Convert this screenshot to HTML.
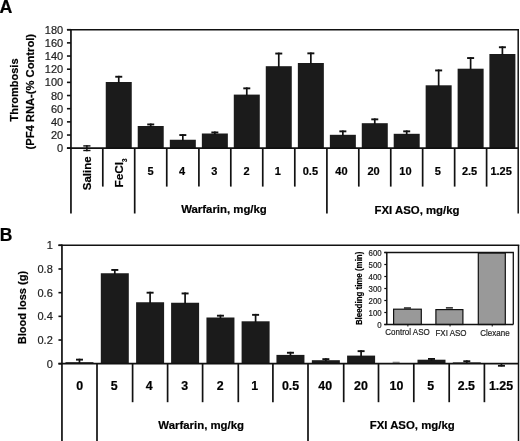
<!DOCTYPE html>
<html><head><meta charset="utf-8"><style>
html,body{margin:0;padding:0;background:#fff;}
body{width:520px;height:441px;overflow:hidden;}
svg{display:block;font-family:"Liberation Sans", sans-serif;filter:grayscale(1);}
</style></head><body>
<svg width="520" height="441" viewBox="0 0 520 441">
<rect x="0" y="0" width="520" height="441" fill="#fff"/>
<text x="-0.50" y="12.70" font-size="17.8" font-weight="bold" text-anchor="start" fill="#000" stroke="#000" stroke-width="0.2" >A</text>
<text x="-0.30" y="241.10" font-size="17.5" font-weight="bold" text-anchor="start" fill="#000" stroke="#000" stroke-width="0.2" >B</text>
<rect x="105.75" y="82.00" width="26.00" height="66.20" fill="#1b1b1b" />
<line x1="118.75" y1="75.80" x2="118.75" y2="83.00" stroke="#111" stroke-width="1.7"/>
<line x1="115.25" y1="76.75" x2="122.25" y2="76.75" stroke="#111" stroke-width="1.9"/>
<rect x="137.72" y="126.00" width="26.00" height="22.20" fill="#1b1b1b" />
<line x1="150.72" y1="123.50" x2="150.72" y2="127.00" stroke="#111" stroke-width="1.7"/>
<line x1="147.22" y1="124.45" x2="154.22" y2="124.45" stroke="#111" stroke-width="1.9"/>
<rect x="169.82" y="139.75" width="26.00" height="8.45" fill="#1b1b1b" />
<line x1="182.82" y1="134.10" x2="182.82" y2="140.75" stroke="#111" stroke-width="1.7"/>
<line x1="179.32" y1="135.05" x2="186.32" y2="135.05" stroke="#111" stroke-width="1.9"/>
<rect x="201.85" y="133.50" width="26.00" height="14.70" fill="#1b1b1b" />
<line x1="214.85" y1="131.50" x2="214.85" y2="134.50" stroke="#111" stroke-width="1.7"/>
<line x1="211.35" y1="132.45" x2="218.35" y2="132.45" stroke="#111" stroke-width="1.9"/>
<rect x="233.78" y="94.60" width="26.00" height="53.60" fill="#1b1b1b" />
<line x1="246.78" y1="87.40" x2="246.78" y2="95.60" stroke="#111" stroke-width="1.7"/>
<line x1="243.28" y1="88.35" x2="250.28" y2="88.35" stroke="#111" stroke-width="1.9"/>
<rect x="265.77" y="66.20" width="26.00" height="82.00" fill="#1b1b1b" />
<line x1="278.77" y1="52.60" x2="278.77" y2="67.20" stroke="#111" stroke-width="1.7"/>
<line x1="275.27" y1="53.55" x2="282.27" y2="53.55" stroke="#111" stroke-width="1.9"/>
<rect x="297.85" y="63.00" width="26.00" height="85.20" fill="#1b1b1b" />
<line x1="310.85" y1="52.40" x2="310.85" y2="64.00" stroke="#111" stroke-width="1.7"/>
<line x1="307.35" y1="53.35" x2="314.35" y2="53.35" stroke="#111" stroke-width="1.9"/>
<rect x="329.85" y="134.80" width="26.00" height="13.40" fill="#1b1b1b" />
<line x1="342.85" y1="130.40" x2="342.85" y2="135.80" stroke="#111" stroke-width="1.7"/>
<line x1="339.35" y1="131.35" x2="346.35" y2="131.35" stroke="#111" stroke-width="1.9"/>
<rect x="361.77" y="123.20" width="26.00" height="25.00" fill="#1b1b1b" />
<line x1="374.77" y1="118.40" x2="374.77" y2="124.20" stroke="#111" stroke-width="1.7"/>
<line x1="371.27" y1="119.35" x2="378.27" y2="119.35" stroke="#111" stroke-width="1.9"/>
<rect x="393.70" y="133.80" width="26.00" height="14.40" fill="#1b1b1b" />
<line x1="406.70" y1="130.40" x2="406.70" y2="134.80" stroke="#111" stroke-width="1.7"/>
<line x1="403.20" y1="131.35" x2="410.20" y2="131.35" stroke="#111" stroke-width="1.9"/>
<rect x="425.65" y="85.30" width="26.00" height="62.90" fill="#1b1b1b" />
<line x1="438.65" y1="69.50" x2="438.65" y2="86.30" stroke="#111" stroke-width="1.7"/>
<line x1="435.15" y1="70.45" x2="442.15" y2="70.45" stroke="#111" stroke-width="1.9"/>
<rect x="457.62" y="68.70" width="26.00" height="79.50" fill="#1b1b1b" />
<line x1="470.62" y1="57.10" x2="470.62" y2="69.70" stroke="#111" stroke-width="1.7"/>
<line x1="467.12" y1="58.05" x2="474.12" y2="58.05" stroke="#111" stroke-width="1.9"/>
<rect x="489.40" y="54.00" width="26.00" height="94.20" fill="#1b1b1b" />
<line x1="502.40" y1="46.30" x2="502.40" y2="55.00" stroke="#111" stroke-width="1.7"/>
<line x1="498.90" y1="47.25" x2="505.90" y2="47.25" stroke="#111" stroke-width="1.9"/>
<line x1="86.88" y1="145.20" x2="86.88" y2="151.20" stroke="#111" stroke-width="1.5"/>
<line x1="83.28" y1="145.90" x2="90.47" y2="145.90" stroke="#111" stroke-width="1.4"/>
<line x1="83.28" y1="150.50" x2="90.47" y2="150.50" stroke="#111" stroke-width="1.4"/>
<line x1="70.95" y1="28.90" x2="70.95" y2="213.50" stroke="#111" stroke-width="1.7"/>
<line x1="66.95" y1="29.70" x2="519.00" y2="29.70" stroke="#111" stroke-width="1.5"/>
<line x1="518.20" y1="29.70" x2="518.20" y2="213.50" stroke="#111" stroke-width="1.5"/>
<line x1="66.95" y1="148.20" x2="518.20" y2="148.20" stroke="#111" stroke-width="1.8"/>
<line x1="66.95" y1="148.20" x2="70.95" y2="148.20" stroke="#111" stroke-width="1.6"/>
<text x="63.20" y="152.20" font-size="11" font-weight="normal" text-anchor="end" fill="#222" stroke="#222" stroke-width="0.2" >0</text>
<line x1="66.95" y1="135.03" x2="70.95" y2="135.03" stroke="#111" stroke-width="1.6"/>
<text x="63.20" y="139.03" font-size="11" font-weight="normal" text-anchor="end" fill="#222" stroke="#222" stroke-width="0.2" >20</text>
<line x1="66.95" y1="121.87" x2="70.95" y2="121.87" stroke="#111" stroke-width="1.6"/>
<text x="63.20" y="125.87" font-size="11" font-weight="normal" text-anchor="end" fill="#222" stroke="#222" stroke-width="0.2" >40</text>
<line x1="66.95" y1="108.70" x2="70.95" y2="108.70" stroke="#111" stroke-width="1.6"/>
<text x="63.20" y="112.70" font-size="11" font-weight="normal" text-anchor="end" fill="#222" stroke="#222" stroke-width="0.2" >60</text>
<line x1="66.95" y1="95.53" x2="70.95" y2="95.53" stroke="#111" stroke-width="1.6"/>
<text x="63.20" y="99.53" font-size="11" font-weight="normal" text-anchor="end" fill="#222" stroke="#222" stroke-width="0.2" >80</text>
<line x1="66.95" y1="82.37" x2="70.95" y2="82.37" stroke="#111" stroke-width="1.6"/>
<text x="63.20" y="86.37" font-size="11" font-weight="normal" text-anchor="end" fill="#222" stroke="#222" stroke-width="0.2" >100</text>
<line x1="66.95" y1="69.20" x2="70.95" y2="69.20" stroke="#111" stroke-width="1.6"/>
<text x="63.20" y="73.20" font-size="11" font-weight="normal" text-anchor="end" fill="#222" stroke="#222" stroke-width="0.2" >120</text>
<line x1="66.95" y1="56.03" x2="70.95" y2="56.03" stroke="#111" stroke-width="1.6"/>
<text x="63.20" y="60.03" font-size="11" font-weight="normal" text-anchor="end" fill="#222" stroke="#222" stroke-width="0.2" >140</text>
<line x1="66.95" y1="42.87" x2="70.95" y2="42.87" stroke="#111" stroke-width="1.6"/>
<text x="63.20" y="46.87" font-size="11" font-weight="normal" text-anchor="end" fill="#222" stroke="#222" stroke-width="0.2" >160</text>
<line x1="66.95" y1="29.70" x2="70.95" y2="29.70" stroke="#111" stroke-width="1.6"/>
<text x="63.20" y="33.70" font-size="11" font-weight="normal" text-anchor="end" fill="#222" stroke="#222" stroke-width="0.2" >180</text>
<line x1="102.80" y1="148.20" x2="102.80" y2="186.60" stroke="#111" stroke-width="1.7"/>
<line x1="134.70" y1="148.20" x2="134.70" y2="213.50" stroke="#111" stroke-width="1.7"/>
<line x1="166.75" y1="148.20" x2="166.75" y2="186.60" stroke="#111" stroke-width="1.7"/>
<line x1="198.90" y1="148.20" x2="198.90" y2="186.60" stroke="#111" stroke-width="1.7"/>
<line x1="230.80" y1="148.20" x2="230.80" y2="186.60" stroke="#111" stroke-width="1.7"/>
<line x1="262.75" y1="148.20" x2="262.75" y2="186.60" stroke="#111" stroke-width="1.7"/>
<line x1="294.80" y1="148.20" x2="294.80" y2="186.60" stroke="#111" stroke-width="1.7"/>
<line x1="326.90" y1="148.20" x2="326.90" y2="213.50" stroke="#111" stroke-width="1.7"/>
<line x1="358.80" y1="148.20" x2="358.80" y2="186.60" stroke="#111" stroke-width="1.7"/>
<line x1="390.75" y1="148.20" x2="390.75" y2="186.60" stroke="#111" stroke-width="1.7"/>
<line x1="422.65" y1="148.20" x2="422.65" y2="186.60" stroke="#111" stroke-width="1.7"/>
<line x1="454.65" y1="148.20" x2="454.65" y2="186.60" stroke="#111" stroke-width="1.7"/>
<line x1="486.60" y1="148.20" x2="486.60" y2="186.60" stroke="#111" stroke-width="1.7"/>
<text transform="translate(91.47,173.30) rotate(-90)" font-size="11.5" font-weight="bold" text-anchor="middle" fill="#000" stroke="#000" stroke-width="0.2" >Saline</text>
<text transform="translate(122.95,173.00) rotate(-90)" font-size="11.8" font-weight="bold" text-anchor="middle" fill="#000" stroke="#000" stroke-width="0.2" >FeCl<tspan font-size="6.3" dy="4.3">3</tspan></text>
<text x="150.60" y="175.20" font-size="11" font-weight="bold" text-anchor="middle" fill="#000" stroke="#000" stroke-width="0.2" >5</text>
<text x="182.10" y="175.20" font-size="11" font-weight="bold" text-anchor="middle" fill="#000" stroke="#000" stroke-width="0.2" >4</text>
<text x="214.20" y="175.20" font-size="11" font-weight="bold" text-anchor="middle" fill="#000" stroke="#000" stroke-width="0.2" >3</text>
<text x="246.50" y="175.20" font-size="11" font-weight="bold" text-anchor="middle" fill="#000" stroke="#000" stroke-width="0.2" >2</text>
<text x="277.90" y="175.20" font-size="11" font-weight="bold" text-anchor="middle" fill="#000" stroke="#000" stroke-width="0.2" >1</text>
<text x="310.40" y="175.20" font-size="11" font-weight="bold" text-anchor="middle" fill="#000" stroke="#000" stroke-width="0.2" >0.5</text>
<text x="341.40" y="175.20" font-size="11" font-weight="bold" text-anchor="middle" fill="#000" stroke="#000" stroke-width="0.2" >40</text>
<text x="373.60" y="175.20" font-size="11" font-weight="bold" text-anchor="middle" fill="#000" stroke="#000" stroke-width="0.2" >20</text>
<text x="405.40" y="175.20" font-size="11" font-weight="bold" text-anchor="middle" fill="#000" stroke="#000" stroke-width="0.2" >10</text>
<text x="437.90" y="175.20" font-size="11" font-weight="bold" text-anchor="middle" fill="#000" stroke="#000" stroke-width="0.2" >5</text>
<text x="469.60" y="175.20" font-size="11" font-weight="bold" text-anchor="middle" fill="#000" stroke="#000" stroke-width="0.2" >2.5</text>
<text x="501.10" y="175.20" font-size="11" font-weight="bold" text-anchor="middle" fill="#000" stroke="#000" stroke-width="0.2" >1.25</text>
<text x="224.00" y="213.40" font-size="11.4" font-weight="bold" text-anchor="middle" fill="#000" stroke="#000" stroke-width="0.2" >Warfarin, mg/kg</text>
<text x="417.00" y="213.80" font-size="11.4" font-weight="bold" text-anchor="middle" fill="#000" stroke="#000" stroke-width="0.2" >FXI ASO, mg/kg</text>
<text transform="translate(17.70,89.95) rotate(-90)" font-size="11" font-weight="bold" text-anchor="middle" fill="#000" stroke="#000" stroke-width="0.2" >Thrombosis</text>
<text transform="translate(33.60,91.70) rotate(-90)" font-size="11.2" font-weight="bold" text-anchor="middle" fill="#000" stroke="#000" stroke-width="0.2" >(PF4 RNA-(% Control)</text>
<rect x="65.47" y="362.20" width="28.00" height="1.50" fill="#1b1b1b" />
<line x1="79.47" y1="358.70" x2="79.47" y2="363.20" stroke="#111" stroke-width="1.7"/>
<line x1="75.97" y1="359.65" x2="82.97" y2="359.65" stroke="#111" stroke-width="1.9"/>
<rect x="100.80" y="273.25" width="28.00" height="90.45" fill="#1b1b1b" />
<line x1="114.80" y1="269.00" x2="114.80" y2="274.25" stroke="#111" stroke-width="1.7"/>
<line x1="111.30" y1="269.95" x2="118.30" y2="269.95" stroke="#111" stroke-width="1.9"/>
<rect x="136.10" y="302.25" width="28.00" height="61.45" fill="#1b1b1b" />
<line x1="150.10" y1="291.75" x2="150.10" y2="303.25" stroke="#111" stroke-width="1.7"/>
<line x1="146.60" y1="292.70" x2="153.60" y2="292.70" stroke="#111" stroke-width="1.9"/>
<rect x="171.10" y="302.75" width="28.00" height="60.95" fill="#1b1b1b" />
<line x1="185.10" y1="292.50" x2="185.10" y2="303.75" stroke="#111" stroke-width="1.7"/>
<line x1="181.60" y1="293.45" x2="188.60" y2="293.45" stroke="#111" stroke-width="1.9"/>
<rect x="206.45" y="317.50" width="28.00" height="46.20" fill="#1b1b1b" />
<line x1="220.45" y1="314.75" x2="220.45" y2="318.50" stroke="#111" stroke-width="1.7"/>
<line x1="216.95" y1="315.70" x2="223.95" y2="315.70" stroke="#111" stroke-width="1.9"/>
<rect x="241.60" y="321.30" width="28.00" height="42.40" fill="#1b1b1b" />
<line x1="255.60" y1="313.90" x2="255.60" y2="322.30" stroke="#111" stroke-width="1.7"/>
<line x1="252.10" y1="314.85" x2="259.10" y2="314.85" stroke="#111" stroke-width="1.9"/>
<rect x="276.45" y="354.90" width="28.00" height="8.80" fill="#1b1b1b" />
<line x1="290.45" y1="351.80" x2="290.45" y2="355.90" stroke="#111" stroke-width="1.7"/>
<line x1="286.95" y1="352.75" x2="293.95" y2="352.75" stroke="#111" stroke-width="1.9"/>
<rect x="311.85" y="360.20" width="28.00" height="3.50" fill="#1b1b1b" />
<line x1="325.85" y1="358.20" x2="325.85" y2="361.20" stroke="#111" stroke-width="1.7"/>
<line x1="322.35" y1="359.15" x2="329.35" y2="359.15" stroke="#111" stroke-width="1.9"/>
<rect x="347.10" y="355.60" width="28.00" height="8.10" fill="#1b1b1b" />
<line x1="361.10" y1="350.20" x2="361.10" y2="356.60" stroke="#111" stroke-width="1.7"/>
<line x1="357.60" y1="351.15" x2="364.60" y2="351.15" stroke="#111" stroke-width="1.9"/>
<rect x="417.50" y="359.70" width="28.00" height="4.00" fill="#1b1b1b" />
<line x1="431.50" y1="358.00" x2="431.50" y2="360.70" stroke="#111" stroke-width="1.7"/>
<line x1="428.00" y1="358.95" x2="435.00" y2="358.95" stroke="#111" stroke-width="1.9"/>
<rect x="452.80" y="362.40" width="28.00" height="1.30" fill="#1b1b1b" />
<line x1="466.80" y1="360.30" x2="466.80" y2="363.40" stroke="#111" stroke-width="1.7"/>
<line x1="463.30" y1="361.25" x2="470.30" y2="361.25" stroke="#111" stroke-width="1.9"/>
<line x1="501.45" y1="363.70" x2="501.45" y2="366.50" stroke="#111" stroke-width="1.7"/>
<line x1="497.95" y1="365.80" x2="504.95" y2="365.80" stroke="#111" stroke-width="1.8"/>
<line x1="392.65" y1="362.30" x2="399.65" y2="362.30" stroke="#888" stroke-width="1.2"/>
<line x1="61.95" y1="244.50" x2="61.95" y2="441.00" stroke="#111" stroke-width="1.7"/>
<line x1="58.45" y1="245.30" x2="519.30" y2="245.30" stroke="#111" stroke-width="1.5"/>
<line x1="518.50" y1="245.30" x2="518.50" y2="441.00" stroke="#111" stroke-width="1.5"/>
<line x1="58.45" y1="363.70" x2="518.50" y2="363.70" stroke="#111" stroke-width="1.8"/>
<line x1="58.45" y1="363.70" x2="61.95" y2="363.70" stroke="#111" stroke-width="1.6"/>
<text x="52.80" y="367.70" font-size="11" font-weight="normal" text-anchor="end" fill="#222" stroke="#222" stroke-width="0.2" >0</text>
<line x1="58.45" y1="340.02" x2="61.95" y2="340.02" stroke="#111" stroke-width="1.6"/>
<text x="52.80" y="344.02" font-size="11" font-weight="normal" text-anchor="end" fill="#222" stroke="#222" stroke-width="0.2" >0.2</text>
<line x1="58.45" y1="316.34" x2="61.95" y2="316.34" stroke="#111" stroke-width="1.6"/>
<text x="52.80" y="320.34" font-size="11" font-weight="normal" text-anchor="end" fill="#222" stroke="#222" stroke-width="0.2" >0.4</text>
<line x1="58.45" y1="292.66" x2="61.95" y2="292.66" stroke="#111" stroke-width="1.6"/>
<text x="52.80" y="296.66" font-size="11" font-weight="normal" text-anchor="end" fill="#222" stroke="#222" stroke-width="0.2" >0.6</text>
<line x1="58.45" y1="268.98" x2="61.95" y2="268.98" stroke="#111" stroke-width="1.6"/>
<text x="52.80" y="272.98" font-size="11" font-weight="normal" text-anchor="end" fill="#222" stroke="#222" stroke-width="0.2" >0.8</text>
<line x1="58.45" y1="245.30" x2="61.95" y2="245.30" stroke="#111" stroke-width="1.6"/>
<text x="52.80" y="249.30" font-size="11" font-weight="normal" text-anchor="end" fill="#222" stroke="#222" stroke-width="0.2" >1</text>
<line x1="97.00" y1="363.70" x2="97.00" y2="441.00" stroke="#111" stroke-width="1.7"/>
<line x1="132.60" y1="363.70" x2="132.60" y2="402.20" stroke="#111" stroke-width="1.7"/>
<line x1="167.60" y1="363.70" x2="167.60" y2="402.20" stroke="#111" stroke-width="1.7"/>
<line x1="202.60" y1="363.70" x2="202.60" y2="402.20" stroke="#111" stroke-width="1.7"/>
<line x1="238.30" y1="363.70" x2="238.30" y2="402.20" stroke="#111" stroke-width="1.7"/>
<line x1="272.90" y1="363.70" x2="272.90" y2="402.20" stroke="#111" stroke-width="1.7"/>
<line x1="308.00" y1="363.70" x2="308.00" y2="441.00" stroke="#111" stroke-width="1.7"/>
<line x1="343.70" y1="363.70" x2="343.70" y2="402.20" stroke="#111" stroke-width="1.7"/>
<line x1="378.50" y1="363.70" x2="378.50" y2="402.20" stroke="#111" stroke-width="1.7"/>
<line x1="413.80" y1="363.70" x2="413.80" y2="402.20" stroke="#111" stroke-width="1.7"/>
<line x1="449.20" y1="363.70" x2="449.20" y2="402.20" stroke="#111" stroke-width="1.7"/>
<line x1="484.40" y1="363.70" x2="484.40" y2="402.20" stroke="#111" stroke-width="1.7"/>
<text x="79.70" y="390.00" font-size="12.4" font-weight="bold" text-anchor="middle" fill="#000" stroke="#000" stroke-width="0.2" >0</text>
<text x="114.30" y="390.00" font-size="12.4" font-weight="bold" text-anchor="middle" fill="#000" stroke="#000" stroke-width="0.2" >5</text>
<text x="149.20" y="390.00" font-size="12.4" font-weight="bold" text-anchor="middle" fill="#000" stroke="#000" stroke-width="0.2" >4</text>
<text x="184.60" y="390.00" font-size="12.4" font-weight="bold" text-anchor="middle" fill="#000" stroke="#000" stroke-width="0.2" >3</text>
<text x="220.30" y="390.00" font-size="12.4" font-weight="bold" text-anchor="middle" fill="#000" stroke="#000" stroke-width="0.2" >2</text>
<text x="254.80" y="390.00" font-size="12.4" font-weight="bold" text-anchor="middle" fill="#000" stroke="#000" stroke-width="0.2" >1</text>
<text x="290.50" y="390.00" font-size="12.4" font-weight="bold" text-anchor="middle" fill="#000" stroke="#000" stroke-width="0.2" >0.5</text>
<text x="325.20" y="390.00" font-size="12.4" font-weight="bold" text-anchor="middle" fill="#000" stroke="#000" stroke-width="0.2" >40</text>
<text x="361.00" y="390.00" font-size="12.4" font-weight="bold" text-anchor="middle" fill="#000" stroke="#000" stroke-width="0.2" >20</text>
<text x="396.40" y="390.00" font-size="12.4" font-weight="bold" text-anchor="middle" fill="#000" stroke="#000" stroke-width="0.2" >10</text>
<text x="430.60" y="390.00" font-size="12.4" font-weight="bold" text-anchor="middle" fill="#000" stroke="#000" stroke-width="0.2" >5</text>
<text x="466.40" y="390.00" font-size="12.4" font-weight="bold" text-anchor="middle" fill="#000" stroke="#000" stroke-width="0.2" >2.5</text>
<text x="501.00" y="390.00" font-size="12.4" font-weight="bold" text-anchor="middle" fill="#000" stroke="#000" stroke-width="0.2" >1.25</text>
<text x="201.20" y="428.90" font-size="11.4" font-weight="bold" text-anchor="middle" fill="#000" stroke="#000" stroke-width="0.2" >Warfarin, mg/kg</text>
<text x="412.20" y="429.10" font-size="11.4" font-weight="bold" text-anchor="middle" fill="#000" stroke="#000" stroke-width="0.2" >FXI ASO, mg/kg</text>
<text transform="translate(26.30,307.60) rotate(-90)" font-size="11" font-weight="bold" text-anchor="middle" fill="#000" stroke="#000" stroke-width="0.2" >Blood loss (g)</text>
<rect x="393.60" y="309.20" width="27.70" height="15.30" fill="#999" stroke="#111" stroke-width="1.2"/>
<line x1="403.95" y1="308.00" x2="410.95" y2="308.00" stroke="#111" stroke-width="1.4"/>
<rect x="435.90" y="309.60" width="27.00" height="14.90" fill="#999" stroke="#111" stroke-width="1.2"/>
<line x1="445.90" y1="307.90" x2="452.90" y2="307.90" stroke="#111" stroke-width="1.4"/>
<rect x="478.30" y="253.00" width="27.00" height="71.50" fill="#999" stroke="#111" stroke-width="1.2"/>
<line x1="386.80" y1="251.90" x2="386.80" y2="325.10" stroke="#111" stroke-width="1.5"/>
<line x1="384.30" y1="252.50" x2="513.90" y2="252.50" stroke="#111" stroke-width="1.3"/>
<line x1="513.30" y1="252.50" x2="513.30" y2="324.50" stroke="#111" stroke-width="1.3"/>
<line x1="384.30" y1="324.50" x2="513.30" y2="324.50" stroke="#111" stroke-width="1.5"/>
<line x1="384.30" y1="324.50" x2="386.80" y2="324.50" stroke="#111" stroke-width="1.2"/>
<text transform="translate(381.60,328.10) scale(0.9,1)" font-size="8.7" font-weight="normal" text-anchor="end" fill="#222" stroke="#222" stroke-width="0.2" >0</text>
<line x1="384.30" y1="312.50" x2="386.80" y2="312.50" stroke="#111" stroke-width="1.2"/>
<text transform="translate(381.60,316.10) scale(0.9,1)" font-size="8.7" font-weight="normal" text-anchor="end" fill="#222" stroke="#222" stroke-width="0.2" >100</text>
<line x1="384.30" y1="300.50" x2="386.80" y2="300.50" stroke="#111" stroke-width="1.2"/>
<text transform="translate(381.60,304.10) scale(0.9,1)" font-size="8.7" font-weight="normal" text-anchor="end" fill="#222" stroke="#222" stroke-width="0.2" >200</text>
<line x1="384.30" y1="288.50" x2="386.80" y2="288.50" stroke="#111" stroke-width="1.2"/>
<text transform="translate(381.60,292.10) scale(0.9,1)" font-size="8.7" font-weight="normal" text-anchor="end" fill="#222" stroke="#222" stroke-width="0.2" >300</text>
<line x1="384.30" y1="276.50" x2="386.80" y2="276.50" stroke="#111" stroke-width="1.2"/>
<text transform="translate(381.60,280.10) scale(0.9,1)" font-size="8.7" font-weight="normal" text-anchor="end" fill="#222" stroke="#222" stroke-width="0.2" >400</text>
<line x1="384.30" y1="264.50" x2="386.80" y2="264.50" stroke="#111" stroke-width="1.2"/>
<text transform="translate(381.60,268.10) scale(0.9,1)" font-size="8.7" font-weight="normal" text-anchor="end" fill="#222" stroke="#222" stroke-width="0.2" >500</text>
<line x1="384.30" y1="252.50" x2="386.80" y2="252.50" stroke="#111" stroke-width="1.2"/>
<text transform="translate(381.60,256.10) scale(0.9,1)" font-size="8.7" font-weight="normal" text-anchor="end" fill="#222" stroke="#222" stroke-width="0.2" >600</text>
<line x1="407.88" y1="324.50" x2="407.88" y2="326.50" stroke="#111" stroke-width="1.0"/>
<line x1="450.05" y1="324.50" x2="450.05" y2="326.50" stroke="#111" stroke-width="1.0"/>
<line x1="492.22" y1="324.50" x2="492.22" y2="326.50" stroke="#111" stroke-width="1.0"/>
<text transform="translate(407.50,335.20) scale(0.91,1)" font-size="8.8" font-weight="normal" text-anchor="middle" fill="#222" stroke="#222" stroke-width="0.2" >Control ASO</text>
<text transform="translate(451.00,335.50) scale(0.91,1)" font-size="8.8" font-weight="normal" text-anchor="middle" fill="#222" stroke="#222" stroke-width="0.2" >FXI ASO</text>
<text transform="translate(494.90,335.50) scale(0.91,1)" font-size="8.8" font-weight="normal" text-anchor="middle" fill="#222" stroke="#222" stroke-width="0.2" >Clexane</text>
<text transform="translate(361.80,288.40) rotate(-90) scale(0.86,1)" font-size="9.2" font-weight="bold" text-anchor="middle" fill="#000" stroke="#000" stroke-width="0.2" >Bleeding time (min)</text>
</svg>
</body></html>
